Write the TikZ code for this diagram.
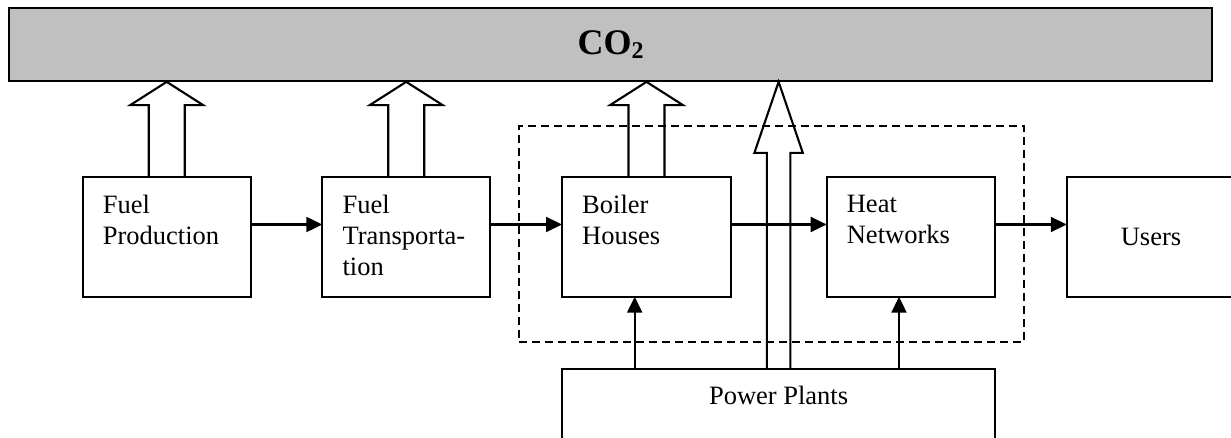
\documentclass[tikz,border=0pt]{standalone}
\usepackage{fontspec}
\setmainfont{Liberation Serif}
\usetikzlibrary{arrows.meta,calc}
\definecolor{bargray}{RGB}{192,192,192}
\tikzset{
 box/.style={draw, line width=2.1pt, minimum height=120pt, inner sep=0pt, outer sep=0pt, font=\fontsize{26.5}{31}\selectfont},
 lbl/.style={anchor=north west, inner sep=0pt, align=left, font=\fontsize{26.5}{31}\selectfont},
 flow/.style={draw, line width=2.1pt, -{Triangle[length=16pt,width=15pt]}},
 fat/.style={draw, line width=2.1pt, line join=miter},
 grp/.style={draw, dash pattern=on 8pt off 5pt, line width=2.1pt, inner sep=0pt},
 barbox/.style={draw, line width=2.3pt, fill=bargray, inner sep=0pt},
}
\newcommand\fatarrow[5]{%
 \draw[fat] let \p1=(#1), \p2=(#2) in
   (\x1-#3pt,\y1) -- (\x1-#3pt,\y2-#5pt) -- (\x1-#4pt,\y2-#5pt) -- (\x1,\y2)
   -- (\x1+#4pt,\y2-#5pt) -- (\x1+#3pt,\y2-#5pt) -- (\x1+#3pt,\y1);}
\begin{document}
\begin{tikzpicture}[x=1pt,y=-1pt]
\useasboundingbox (0,0) rectangle (1231,438);
\clip (0,0) rectangle (1231,438);
% CO2 bar
\node[barbox, minimum width=1202.4pt, minimum height=72.7pt] (co2) at (610.5,44.35)
  {\fontsize{36}{40}\selectfont\bfseries CO\raisebox{-3.5pt}{\fontsize{24}{24}\selectfont 2}};
% dashed group
\node[grp, minimum width=505pt, minimum height=216pt] (grpbox) at (771.5,233.7) {};
% boxes
\node[box, minimum width=168pt] (fp) at (166.7,236.7) {};
\node[box, minimum width=167.7pt] (ft) at (406.2,236.7) {};
\node[box, minimum width=169pt] (bh) at (646.5,236.7) {};
\node[box, minimum width=168.3pt] (hn) at (910.8,236.7) {};
\node[box, minimum width=168.5pt] (us) at (1151,236.7) {Users};
\node[box, minimum width=432.7pt] (pp) at (778.6,428.7) {};
% labels
\node[lbl] (fpt) at ([xshift=20pt,yshift=-18.5pt]fp.north west) {Fuel\\Production};
\node[lbl] (ftt) at ([xshift=20pt,yshift=-18.5pt]ft.north west) {Fuel\\Transporta-\\tion};
\node[lbl] (bht) at ([xshift=20pt,yshift=-18.5pt]bh.north west) {Boiler\\Houses};
\node[lbl] (hnt) at ([xshift=20pt,yshift=-18.5pt]hn.north west) {Heat\\Networks};
\node[anchor=base, inner sep=0pt, font=\fontsize{26.5}{31}\selectfont] (ppt) at ([yshift=-35.3pt]pp.north) {Power Plants};
% flow arrows
\draw[flow] ([yshift=12.2pt]fp.east) -- ([yshift=12.2pt]fp.east -| ft.west);
\draw[flow] ([yshift=12.2pt]ft.east) -- ([yshift=12.2pt]ft.east -| bh.west);
\draw[flow] ([yshift=12.2pt]bh.east) -- ([yshift=12.2pt]bh.east -| hn.west);
\draw[flow] ([yshift=12.2pt]hn.east) -- ([yshift=12.2pt]hn.east -| us.west);
\draw[flow] ([xshift=-11.8pt]bh.south |- pp.north) -- ([xshift=-11.8pt]bh.south);
\draw[flow] ([xshift=-11.8pt]hn.south |- pp.north) -- ([xshift=-11.8pt]hn.south);
% CO2 emission arrows
\fatarrow{fp.north}{co2.south}{18}{36.5}{23.3}
\fatarrow{ft.north}{co2.south}{18}{36.5}{23.3}
\fatarrow{bh.north}{co2.south}{18}{36.5}{23.3}
\fatarrow{pp.north}{co2.south}{11.7}{24.2}{71}
\end{tikzpicture}
\end{document}
